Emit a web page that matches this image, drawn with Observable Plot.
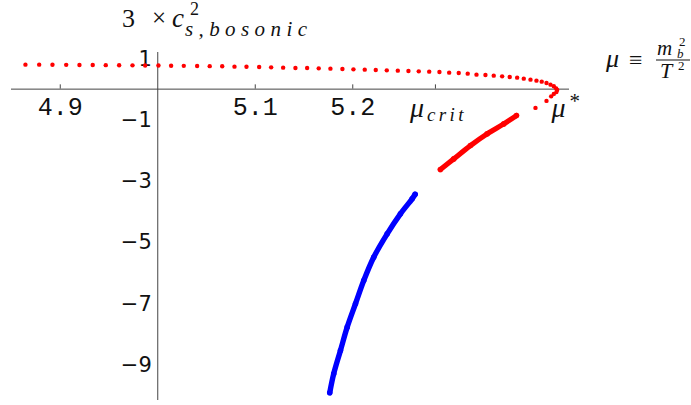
<!DOCTYPE html>
<html><head><meta charset="utf-8">
<script src="https://cdn.jsdelivr.net/npm/d3@7"></script>
<script src="https://cdn.jsdelivr.net/npm/@observablehq/plot@0.6"></script>
<style>
body{margin:0;background:#fff}
#chart{position:relative;width:691px;height:405px}
#overlay{position:absolute;left:0;top:0;pointer-events:none;overflow:visible}
</style>
</head><body><div id="chart"></div>
<script>
// upper (stable) red branch, read dot by dot
const upperMu = [4.8643,4.8784,4.8920,4.9061,4.9197,4.9333,4.9467,4.9604,4.9741,4.9871,5.0007,5.0137,5.0267,5.0404,5.0533,5.0661,5.0787,5.0910,5.1040,5.1163,5.1286,5.1412,5.1532,5.1651,5.1771,5.1894,5.2007,5.2123,5.2236,5.2349,5.2462,5.2571,5.2677,5.2784,5.2889,5.2989,5.3087,5.3179,5.3269,5.3361,5.3446,5.3532,5.3610,5.3686,5.3754,5.3823,5.3884,5.3938,5.3987,5.4028,5.4062,5.4086,5.4096,5.4089,5.4062,5.4035,5.3987,5.3874];
const upperC = [0.802,0.802,0.799,0.795,0.792,0.789,0.786,0.782,0.779,0.776,0.773,0.766,0.763,0.756,0.753,0.750,0.736,0.733,0.726,0.713,0.704,0.694,0.690,0.681,0.671,0.661,0.648,0.638,0.628,0.615,0.606,0.596,0.583,0.573,0.563,0.540,0.530,0.507,0.475,0.465,0.442,0.419,0.399,0.376,0.344,0.311,0.278,0.245,0.203,0.147,0.092,0.026,-0.026,-0.092,-0.157,-0.236,-0.386,-0.615];
// lower red branch
const redMu = [5.2899,5.3036,5.3207,5.3378,5.3549,5.3679];
const redC  = [-2.635,-2.285,-1.849,-1.466,-1.139,-0.867];
// blue branch
const blueMu = [5.1764,5.1805,5.1874,5.1943,5.2028,5.2113,5.2215,5.2353,5.2489,5.2609,5.2640];
const blueC  = [-9.944,-9.322,-8.560,-7.797,-7.031,-6.268,-5.506,-4.740,-4.085,-3.594,-3.444];
const xTicks = [4.9, 5.1, 5.2];
const yTicks = [1, -1, -3, -5, -7, -9];
const muCrit = 5.2848;
const muStar = 5.4096;

const toRows = (xs, ys) => xs.map((x, i) => ({x, y: ys[i]}));
const upper = toRows(upperMu, upperC);
const red = toRows(redMu, redC);
const blue = toRows(blueMu, blueC);

const axisColor = "#444";
const plot = Plot.plot({
  width: 691, height: 405,
  marginLeft: 11, marginRight: 122, marginTop: 52, marginBottom: 5,
  x: {domain: [4.85, 5.4223], axis: null},
  y: {domain: [-10.2, 1.2], axis: null},
  style: {background: "#fff"},
  marks: [
    Plot.ruleY([0], {stroke: axisColor, strokeWidth: 1}),
    Plot.ruleX([5], {stroke: axisColor, strokeWidth: 1}),
    Plot.ruleX([...xTicks, muCrit], {x: d => d, y1: 0, y2: 0.14, stroke: axisColor}),
    Plot.text(xTicks, {x: d => d, y: 0, dy: 18, text: d => d.toFixed(1), fontFamily: "Liberation Mono", fontSize: 25, fill: "#111"}),
    Plot.text(yTicks, {x: 5, y: d => d, dx: -6, dy: 1, textAnchor: "end", text: d => d < 0 ? "\u2212" + Math.abs(d) : String(d), fontFamily: "DejaVu Sans", fontSize: 21, fill: "#111"}),
    Plot.line(blue, {x: "x", y: "y", stroke: "#0000ff", strokeWidth: 5.4, strokeLinecap: "round", curve: "catmull-rom"}),
    Plot.dot(blue, {x: "x", y: "y", r: 2.8, fill: "#0000ff"}),
    Plot.line(red, {x: "x", y: "y", stroke: "#ff0000", strokeWidth: 5.2, strokeLinecap: "round", curve: "catmull-rom"}),
    Plot.dot(red, {x: "x", y: "y", r: 2.8, fill: "#ff0000"}),
    Plot.dot(upper, {x: "x", y: "y", r: 2.2, fill: "#ff0000"})
  ]
});
const chart = document.getElementById("chart");
chart.appendChild(plot);

// math labels in a separate overlay svg (serif, TeX-like)
const sx = plot.scale("x").apply, sy = plot.scale("y").apply;
const ov = d3.select(chart).append("svg").attr("id", "overlay")
  .attr("width", 691).attr("height", 405);
function t(x, y, s, size, italic, ls) {
  const e = ov.append("text").attr("x", x).attr("y", y).text(s)
    .attr("text-anchor", "start")
    .attr("style", `font-family:'Liberation Serif';font-size:${size}px;font-style:${italic ? "italic" : "normal"};letter-spacing:${ls || 0}px`)
    .attr("fill", "#111");
  return e;
}
// y-axis title: 3 × c^2_{s,bosonic}
t(122, 27, "3", 26, false);
t(152, 26, "\u00d7", 25, false);
t(172, 27, "c", 27, true);
t(190, 15, "2", 18, false);
t(185, 36, "s,bosonic", 21, true, 5.4);
// mu_crit under its tick
const xc = sx(muCrit), y0 = sy(0);
t(xc - 25, y0 + 28.5, "\u03bc", 28, true);
t(xc - 8, y0 + 32.5, "crit", 19, true, 3.4);
// mu*
const xs = sx(muStar);
t(xs - 5, y0 + 28.5, "\u03bc", 28, true);
t(xs + 13, y0 + 19, "*", 21, false);
// mu ≡ m_b^2 / T^2
t(606, 67, "\u03bc", 26, true);
t(629, 68, "\u2261", 24, false);
t(657, 54.5, "m", 21, true);
t(677, 58, "b", 13, true);
t(679, 46, "2", 13, false);
ov.append("line").attr("x1", 656).attr("x2", 690).attr("y1", 60).attr("y2", 60).attr("stroke", "#111").attr("stroke-width", 1.2);
t(660, 78, "T", 22, true);
t(678, 70, "2", 13, false);
</script>
</body></html>
